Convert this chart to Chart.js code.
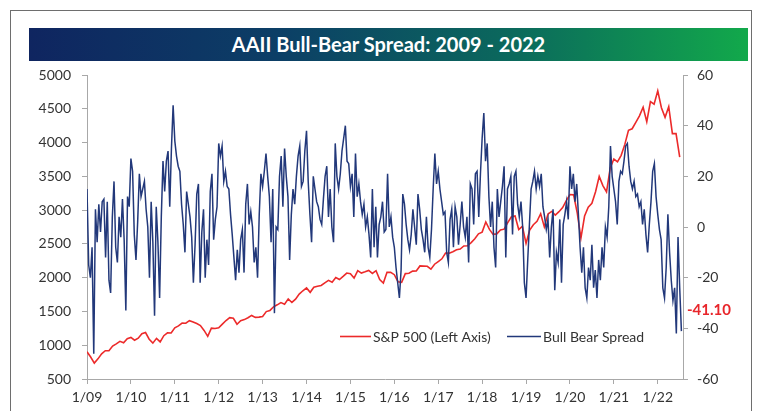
<!DOCTYPE html>
<html>
<head>
<meta charset="utf-8">
<script src="https://cdn.jsdelivr.net/npm/chart.js@4.4.1/dist/chart.umd.min.js"></script>
<style>
  html, body { margin: 0; padding: 0; background: #fff; }
  body { width: 768px; height: 411px; position: relative; overflow: hidden; font-family: Lato, sans-serif; }
  #frame { position: absolute; left: 10px; top: 10px; width: 742px; height: 430px; border: 1.5px solid #6e6e6e; box-sizing: border-box; }
  #title { position: absolute; left: 29px; top: 28px; width: 719px; height: 33px;
    background: linear-gradient(90deg, #0f2560 0%, #0c3f66 35%, #0b6a5c 68%, #12a94b 100%);
    color: #fff; font: bold 20px Lato, sans-serif; text-align: center; line-height: 33px; }
  #chart { position: absolute; left: 0; top: 0; }
</style>
</head>
<body>
<div id="frame"></div>
<div id="title">AAII Bull-Bear Spread: 2009 - 2022</div>
<canvas id="chart" width="768" height="411"></canvas>
<script>
// S&P 500, value at the start of each month from 1/09
const spxClose = [
  903, 826, 735, 798, 873, 919, 919, 987, 1021, 1057, 1036, 1096,
  1115, 1074, 1104, 1169, 1187, 1089, 1031, 1102, 1049, 1141, 1183, 1181,
  1258, 1286, 1327, 1326, 1364, 1345, 1321, 1292, 1219, 1131, 1253, 1247,
  1258, 1312, 1366, 1408, 1398, 1310, 1362, 1379, 1407, 1441, 1412, 1416,
  1426, 1498, 1515, 1569, 1598, 1631, 1606, 1686, 1633, 1682, 1757, 1806,
  1848, 1783, 1859, 1872, 1884, 1924, 1960, 1931, 2003, 1972, 2018, 2068,
  2059, 1995, 2105, 2068, 2086, 2107, 2063, 2104, 1972, 1920, 2079, 2080,
  2044, 1940, 1932, 2060, 2065, 2097, 2099, 2174, 2171, 2168, 2126, 2199,
  2239, 2279, 2364, 2363, 2384, 2412, 2423, 2470, 2472, 2519, 2575, 2648,
  2674, 2824, 2714, 2641, 2648, 2705, 2718, 2816, 2902, 2914, 2712, 2760,
  2507, 2704, 2784, 2834, 2946, 2752, 2942, 2980, 2926, 2977, 3038, 3141,
  3231, 3226, 2954, 2585, 2912, 3044, 3100, 3271, 3500, 3363, 3270, 3622,
  3756, 3714, 3811, 3973, 4181, 4204, 4298, 4395, 4523, 4308, 4605, 4567,
  4766, 4516, 4374, 4530, 4132, 4132, 3785
];

// AAII bull minus bear, every two weeks from 1/09
const bullBearSpread = [
  15, -15, -20, -8, -50, 7, -6, 9, -2, 10, 11, -12, 10, -21, -26, 4, 18, -8, -14, 4, -4, 11, -5, -33, 12, 8,
  27, 22, -3, -13, 2, 21, 12, 15, 18, 7, 0, -20, 10, -6, -35, 8, -6, -28, 4, 26, 14, 26, 30, 8, 31, 48,
  34, 28, 24, 22, 9, 1, -10, 14, 9, 4, -4, -22, -7, 13, 17, -22, -2, 7, -20, -5, -15, 14, 21, -5, 3, 8,
  33, 28, 32, 18, 22, 16, 15, 5, -3, -12, -21, -9, -18, -5, -1, -18, 9, 17, 1, 6, 0, -14, -8, -20, 5, 21,
  16, 22, 29, 20, 12, -6, 15, -34, 0, -1, 20, 28, 8, 31, 20, 12, -13, 5, 15, 9, 20, 28, 32, 16, 18, 30,
  38, 18, 5, -6, 20, 15, 10, 8, 3, 1, 11, 20, 24, 4, 15, 0, -6, 33, 20, 15, 21, 30, 35, 40, 26, 25,
  16, 21, 4, 29, 12, 17, 10, 5, 9, 0, 4, -3, -12, 15, -8, 8, -12, 1, 4, 10, -2, -1, 21, 0, 4, -4,
  -8, -16, -22, -28, -17, 13, 9, 1, -5, -9, -3, 7, 0, -7, 13, 7, -1, -5, -10, 4, -8, -12, -1, 15, 29, 17,
  22, 15, 10, 5, 6, -10, -14, 3, 7, -8, 8, 4, -7, 1, 10, 0, -4, 4, -14, 17, 15, 1, 21, 22, 4, 21,
  35, 45, 26, 33, 12, 0, 10, -8, -16, 15, 4, 10, 16, 24, -12, 15, 17, 20, -3, 20, 22, 9, 4, 10, 0, -22,
  -28, -13, 1, 15, 18, 22, 15, 20, 16, 21, 8, 4, -1, 3, -12, 0, 7, -25, -10, -14, 3, -22, 1, 5, 10, 3,
  24, 15, 21, 10, 17, 5, -8, -18, -8, -24, -28, -16, -21, -7, -24, -17, -28, -13, -21, -8, -16, 0, -4, 8, 32, 20,
  15, 10, 1, 18, 22, 21, 26, 32, 33, 24, 18, 15, 18, 12, 13, 8, 10, 1, 7, -3, -10, 1, 10, 22, 25, 12,
  5, -1, -5, -24, -28, -16, 5, -10, -21, -29, -24, -42, -4, -24, -41.1
];

const yearTicks = [2009, 2010, 2011, 2012, 2013, 2014, 2015, 2016, 2017, 2018, 2019, 2020, 2021, 2022];
const leftTicks = [500, 1000, 1500, 2000, 2500, 3000, 3500, 4000, 4500, 5000];
const rightTicks = [-60, -40, -20, 0, 20, 40, 60];

const spxColor = "#ec2a2a";
const spreadColor = "#22387a";
const axisColor = "#a8a8a8";
const textColor = "#333333";

Chart.defaults.font.family = "Lato, sans-serif";

const overlay = {
  id: "overlay",
  afterDatasetsDraw(chart) {
    const ctx = chart.ctx;
    const area = chart.chartArea;
    ctx.save();
    ctx.lineWidth = 1.6;
    ctx.textBaseline = "middle";
    ctx.font = "14px Lato, sans-serif";

    ctx.strokeStyle = spxColor;
    ctx.beginPath(); ctx.moveTo(340, 336.5); ctx.lineTo(371, 336.5); ctx.stroke();
    ctx.fillStyle = textColor;
    ctx.fillText("S&P 500 (Left Axis)", 373, 337);

    ctx.strokeStyle = spreadColor;
    ctx.beginPath(); ctx.moveTo(507, 336.5); ctx.lineTo(541, 336.5); ctx.stroke();
    ctx.fillText("Bull Bear Spread", 543, 337);

    const last = bullBearSpread[bullBearSpread.length - 1];
    ctx.fillStyle = "#e8262b";
    ctx.font = "bold 15px Lato, sans-serif";
    ctx.fillText(last.toFixed(2), area.right + 4, chart.scales.yR.getPixelForValue(last) - 21);
    ctx.restore();
  }
};

new Chart(document.getElementById("chart"), {
  type: "line",
  data: {
    datasets: [
      {
        label: "S&P 500 (Left Axis)",
        data: spxClose.map((v, i) => ({ x: 2009 + i / 12, y: v })),
        yAxisID: "yL",
        borderColor: spxColor,
        borderWidth: 1.6,
        order: 1
      },
      {
        label: "Bull Bear Spread",
        data: bullBearSpread.map((v, i) => ({ x: 2009 + i / 26, y: v })),
        yAxisID: "yR",
        borderColor: spreadColor,
        borderWidth: 1.5,
        order: 0
      }
    ]
  },
  options: {
    responsive: false,
    animation: false,
    layout: { padding: { top: 75, left: 0, right: 0, bottom: 0 } },
    elements: { point: { radius: 0 }, line: { tension: 0 } },
    plugins: { legend: { display: false }, tooltip: { enabled: false } },
    scales: {
      x: {
        type: "linear",
        min: 2009,
        max: 2022.575,
        afterBuildTicks: s => { s.ticks = yearTicks.map(v => ({ value: v })); },
        afterFit: s => { s.height = 32; },
        ticks: {
          autoSkip: false, maxRotation: 0, padding: 5, color: textColor,
          font: { size: 14 },
          callback: v => "1/" + String(v).slice(2)
        },
        grid: { drawOnChartArea: false, tickLength: 5, color: axisColor },
        border: { color: axisColor }
      },
      yL: {
        position: "left",
        min: 500,
        max: 5000,
        afterBuildTicks: s => { s.ticks = leftTicks.map(v => ({ value: v })); },
        afterFit: s => { s.width = 87; },
        ticks: { padding: 11, color: textColor, font: { size: 14 }, callback: v => String(v) },
        grid: { drawOnChartArea: false, tickLength: 5, color: axisColor },
        border: { color: axisColor }
      },
      yR: {
        position: "right",
        min: -60,
        max: 60,
        afterBuildTicks: s => { s.ticks = rightTicks.map(v => ({ value: v })); },
        afterFit: s => { s.width = 85; },
        ticks: { padding: 9, color: textColor, font: { size: 14 }, callback: v => String(v) },
        grid: { drawOnChartArea: false, tickLength: 5, color: axisColor },
        border: { color: axisColor }
      }
    }
  },
  plugins: [overlay]
});
</script>
</body>
</html>
